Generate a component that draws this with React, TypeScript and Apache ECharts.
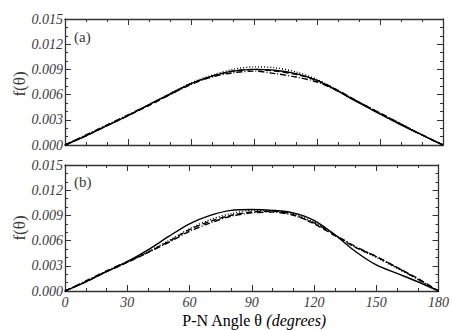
import React, { useEffect, useRef } from "react";
import * as echarts from "echarts";

const angles = [0, 10, 20, 30, 40, 50, 60, 70, 80, 90, 100, 110, 120, 130, 140, 150, 160, 170, 180];
const yTicks = ["0.000", "0.003", "0.006", "0.009", "0.012", "0.015"];

// panel (a)
const aSolid = [0, 0.0011, 0.0023, 0.0035, 0.0048, 0.0061, 0.0073, 0.0082, 0.0088, 0.009, 0.0089, 0.0085, 0.0077, 0.0064, 0.005, 0.0037, 0.0024, 0.0012, 0];
const aDotted = [0, 0.0011, 0.0023, 0.0035, 0.0048, 0.0061, 0.0074, 0.0083, 0.009, 0.0093, 0.0092, 0.0087, 0.0078, 0.0065, 0.0051, 0.0037, 0.0024, 0.0012, 0];
const aDashDot = [0, 0.0012, 0.0024, 0.0036, 0.0048, 0.006, 0.0072, 0.0081, 0.0086, 0.0088, 0.0085, 0.0081, 0.0075, 0.0064, 0.0051, 0.0038, 0.0025, 0.0012, 0];
const aDashed = [0, 0.0011, 0.0023, 0.0035, 0.0047, 0.006, 0.0073, 0.0082, 0.0088, 0.009, 0.0088, 0.0084, 0.0077, 0.0065, 0.0051, 0.0038, 0.0025, 0.0012, 0];

// panel (b)
const bSolid = [0, 0.0011, 0.0023, 0.0035, 0.0049, 0.0065, 0.008, 0.009, 0.0096, 0.0097, 0.0096, 0.0093, 0.0084, 0.0067, 0.0047, 0.0031, 0.0021, 0.0011, 0];
const bDashed = [0, 0.0011, 0.0023, 0.0034, 0.0046, 0.0059, 0.0073, 0.0083, 0.009, 0.0094, 0.0095, 0.0091, 0.008, 0.0066, 0.0052, 0.0041, 0.0028, 0.0015, 0];
const bDashDot = [0, 0.0012, 0.0024, 0.0035, 0.0046, 0.0058, 0.0071, 0.0081, 0.0089, 0.0093, 0.0094, 0.009, 0.0081, 0.0067, 0.0053, 0.0041, 0.0028, 0.0014, 0];
const bDotted = [0, 0.0011, 0.0023, 0.0034, 0.0047, 0.006, 0.0074, 0.0085, 0.0092, 0.0096, 0.0096, 0.0092, 0.0082, 0.0067, 0.0052, 0.004, 0.0027, 0.0014, 0];

const FONT = "Liberation Serif";
const TXT = "#3a3a3a";

export default function App() {
  const ref = useRef<HTMLDivElement>(null);
  useEffect(() => {
    if (!ref.current) return;
    const chart = echarts.init(ref.current, undefined, { renderer: "svg" });
    const grids = [
      { left: 65, top: 19, width: 378, height: 126 },
      { left: 65, top: 165, width: 378, height: 126 },
    ];
    const xAxes: any[] = [];
    const yAxes: any[] = [];
    [0, 1].forEach((g) => {
      const common = {
        type: "value",
        gridIndex: g,
        min: 0,
        max: 180,
        interval: 30,
        axisLine: { show: true, onZero: false, lineStyle: { color: "#333", width: 1.3 } },
        axisTick: { show: true, inside: true, length: 6, lineStyle: { color: "#333" } },
        minorTick: { show: true, splitNumber: 3, length: 3, lineStyle: { color: "#333" } },
        splitLine: { show: false },
      };
      xAxes.push({
        ...common,
        position: "bottom",
        axisLabel: {
          show: g === 1,
          fontFamily: FONT,
          fontStyle: "italic",
          fontSize: 14,
          color: TXT,
          margin: 4,
        },
      });
      xAxes.push({ ...common, position: "top", axisLabel: { show: false } });
      const ycommon = {
        type: "value",
        gridIndex: g,
        min: 0,
        max: 0.015,
        interval: 0.003,
        axisLine: { show: true, onZero: false, lineStyle: { color: "#333", width: 1.3 } },
        axisTick: { show: true, inside: true, length: 6, lineStyle: { color: "#333" } },
        minorTick: { show: true, splitNumber: 3, length: 3, lineStyle: { color: "#333" } },
        splitLine: { show: false },
      };
      yAxes.push({
        ...ycommon,
        position: "left",
        axisLabel: {
          fontFamily: FONT,
          fontStyle: "italic",
          fontSize: 14,
          color: TXT,
          margin: 2,
          formatter: (v: number) => yTicks[Math.round(v / 0.003)] ?? "",
        },
      });
      yAxes.push({ ...ycommon, position: "right", axisLabel: { show: false } });
    });

    const mk = (data: number[], g: number, type: any, width = 1.4) => ({
      type: "line",
      xAxisIndex: g * 2,
      yAxisIndex: g * 2,
      data: angles.map((a, i) => [a, data[i]]),
      smooth: 0.3,
      showSymbol: false,
      lineStyle: { color: "#000", width, type },
    });

    chart.setOption({
      animation: false,
      grid: grids,
      xAxis: xAxes,
      yAxis: yAxes,
      series: [
        mk(aDashed, 0, [6, 3]),
        mk(aDashDot, 0, [6, 2, 1, 2]),
        mk(aDotted, 0, [1, 2]),
        mk(aSolid, 0, "solid"),
        mk(bDashed, 1, [6, 3]),
        mk(bDashDot, 1, [6, 2, 1, 2]),
        mk(bDotted, 1, [1, 2]),
        mk(bSolid, 1, "solid"),
      ],
      graphic: [
        { type: "text", left: 74, top: 29, style: { text: "(a)", font: `15px "${FONT}"`, fill: TXT } },
        { type: "text", left: 74, top: 174, style: { text: "(b)", font: `15px "${FONT}"`, fill: TXT } },
        {
          type: "text",
          x: 19,
          y: 84,
          rotation: Math.PI / 2,
          style: { text: "f(θ)", font: `17px "${FONT}"`, fill: TXT, align: "center", verticalAlign: "middle" },
        },
        {
          type: "text",
          x: 19,
          y: 228,
          rotation: Math.PI / 2,
          style: { text: "f(θ)", font: `17px "${FONT}"`, fill: TXT, align: "center", verticalAlign: "middle" },
        },
        {
          type: "text",
          x: 254,
          y: 320,
          style: {
            text: "{n|P-N Angle θ }{i|(degrees)}",
            align: "center",
            verticalAlign: "middle",
            rich: {
              n: { fontFamily: FONT, fontSize: 16, color: TXT },
              i: { fontFamily: FONT, fontSize: 16, fontStyle: "italic", color: TXT },
            },
          },
        },
      ],
    });
    return () => chart.dispose();
  }, []);
  return <div ref={ref} style={{ width: 452, height: 330, position: "absolute", left: 0, top: 0 }} />;
}
